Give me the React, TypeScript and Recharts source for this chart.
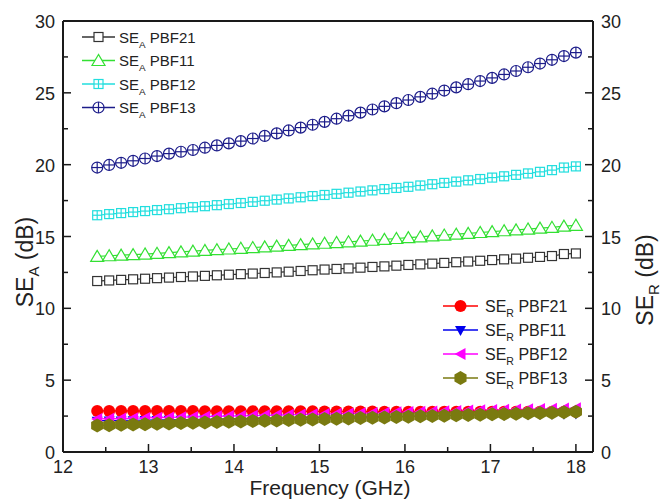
import { LineChart, Line, XAxis, YAxis, ReferenceLine } from "recharts";

// frequency points (GHz)
const freq = [
  12.4, 12.54, 12.68, 12.82, 12.96, 13.1, 13.24, 13.38, 13.52, 13.66,
  13.8, 13.94, 14.08, 14.22, 14.36, 14.5, 14.64, 14.78, 14.92, 15.06,
  15.2, 15.34, 15.48, 15.62, 15.76, 15.9, 16.04, 16.18, 16.32, 16.46,
  16.6, 16.74, 16.88, 17.02, 17.16, 17.3, 17.44, 17.58, 17.72, 17.86,
  18.0,
];

const seA21 = [
  11.9, 11.94, 11.98, 12.02, 12.06, 12.1, 12.14, 12.18, 12.22, 12.26,
  12.3, 12.34, 12.38, 12.42, 12.46, 12.5, 12.55, 12.6, 12.65, 12.7,
  12.74, 12.78, 12.83, 12.88, 12.92, 12.97, 13.02, 13.06, 13.11, 13.16,
  13.21, 13.26, 13.31, 13.36, 13.41, 13.46, 13.52, 13.58, 13.64, 13.78,
  13.82,
];
const seA11 = [
  13.62, 13.66, 13.7, 13.74, 13.78, 13.83, 13.88, 13.93, 13.98, 14.03,
  14.08, 14.13, 14.18, 14.23, 14.28, 14.33, 14.38, 14.43, 14.48, 14.53,
  14.58, 14.63, 14.68, 14.74, 14.8, 14.86, 14.92, 14.98, 15.04, 15.1,
  15.16, 15.22, 15.28, 15.34, 15.4, 15.46, 15.52, 15.58, 15.64, 15.72,
  15.78,
];
const seA12 = [
  16.48, 16.56, 16.63, 16.7, 16.77, 16.84, 16.9, 16.97, 17.04, 17.11,
  17.18, 17.26, 17.33, 17.41, 17.49, 17.57, 17.65, 17.73, 17.81, 17.89,
  17.97, 18.05, 18.13, 18.21, 18.3, 18.38, 18.46, 18.55, 18.64, 18.73,
  18.82, 18.91, 19.0, 19.1, 19.19, 19.29, 19.39, 19.5, 19.62, 19.8,
  19.88,
];
const seA13 = [
  19.8, 19.98, 20.13, 20.27, 20.43, 20.6, 20.77, 20.9, 21.02, 21.18,
  21.34, 21.48, 21.64, 21.82, 22.0, 22.18, 22.38, 22.58, 22.78, 22.98,
  23.2, 23.41, 23.62, 23.84, 24.06, 24.28, 24.5, 24.72, 24.94, 25.16,
  25.38, 25.6, 25.82, 26.04, 26.28, 26.52, 26.78, 27.04, 27.3, 27.56,
  27.8,
];

const seR21 = [
  2.86, 2.86, 2.86, 2.86, 2.85, 2.85, 2.85, 2.85, 2.85, 2.84,
  2.84, 2.84, 2.84, 2.84, 2.83, 2.83, 2.83, 2.83, 2.83, 2.82,
  2.82, 2.82, 2.82, 2.82, 2.81, 2.81, 2.81, 2.81, 2.81, 2.8,
  2.8, 2.8, 2.8, 2.8, 2.8, 2.8, 2.8, 2.8, 2.8, 2.8,
  2.8,
];
const seR11 = [
  2.18, 2.19, 2.2, 2.21, 2.22, 2.23, 2.24, 2.25, 2.26, 2.27,
  2.29, 2.3, 2.31, 2.32, 2.34, 2.35, 2.36, 2.37, 2.39, 2.4,
  2.41, 2.43, 2.44, 2.45, 2.47, 2.48, 2.49, 2.51, 2.52, 2.54,
  2.55, 2.56, 2.58, 2.59, 2.6, 2.62, 2.63, 2.64, 2.66, 2.67,
  2.68,
];
const seR12 = [
  2.3, 2.32, 2.33, 2.35, 2.37, 2.39, 2.41, 2.42, 2.44, 2.46,
  2.48, 2.5, 2.51, 2.53, 2.55, 2.57, 2.59, 2.61, 2.62, 2.64,
  2.66, 2.68, 2.7, 2.72, 2.74, 2.76, 2.78, 2.8, 2.82, 2.84,
  2.86, 2.88, 2.9, 2.92, 2.94, 2.96, 2.98, 3.0, 3.01, 3.03,
  3.05,
];
const seR13 = [
  1.85, 1.87, 1.9, 1.92, 1.94, 1.97, 1.99, 2.01, 2.04, 2.06,
  2.08, 2.11, 2.13, 2.15, 2.18, 2.2, 2.22, 2.25, 2.27, 2.29,
  2.32, 2.34, 2.36, 2.39, 2.41, 2.43, 2.46, 2.48, 2.5, 2.53,
  2.55, 2.57, 2.6, 2.62, 2.64, 2.67, 2.69, 2.71, 2.74, 2.77,
  2.8,
];

const xTicks = [12, 12.5, 13, 13.5, 14, 14.5, 15, 15.5, 16, 16.5, 17, 17.5, 18];
const yTicks = [0, 2.5, 5, 7.5, 10, 12.5, 15, 17.5, 20, 22.5, 25, 27.5, 30];

const data = freq.map((f, i) => ({
  f,
  a21: seA21[i],
  a11: seA11[i],
  a12: seA12[i],
  a13: seA13[i],
  r21: seR21[i],
  r11: seR11[i],
  r12: seR12[i],
  r13: seR13[i],
}));

const FONT = "'Liberation Sans', Arial, sans-serif";
const AXIS = "#1a1a1a";

type P = { cx: number; cy: number };

const OpenSquare = ({ cx, cy }: P) => (
  <rect x={cx - 4.5} y={cy - 4.5} width={9} height={9} fill="#fff" stroke="#333" strokeWidth={1.2} />
);
const OpenTriangle = ({ cx, cy }: P) => (
  <polygon
    points={`${cx},${cy - 6} ${cx - 6.5},${cy + 5} ${cx + 6.5},${cy + 5}`}
    fill="#fff"
    stroke="#33e033"
    strokeWidth={1.2}
  />
);
const CrossSquare = ({ cx, cy }: P) => (
  <g stroke="#22dede" strokeWidth={1.2} fill="#fff">
    <rect x={cx - 4.5} y={cy - 4.5} width={9} height={9} />
    <line x1={cx - 4.5} x2={cx + 4.5} y1={cy} y2={cy} />
    <line x1={cx} x2={cx} y1={cy - 4.5} y2={cy + 4.5} />
  </g>
);
const CrossCircle = ({ cx, cy }: P) => (
  <g stroke="#1c1c8a" strokeWidth={1.2} fill="#fff">
    <circle cx={cx} cy={cy} r={5.5} />
    <line x1={cx - 5.5} x2={cx + 5.5} y1={cy} y2={cy} />
    <line x1={cx} x2={cx} y1={cy - 5.5} y2={cy + 5.5} />
  </g>
);
const RedDot = ({ cx, cy }: P) => <circle cx={cx} cy={cy} r={6} fill="#ff0000" />;
const BlueDown = ({ cx, cy }: P) => (
  <polygon points={`${cx - 5.5},${cy - 4} ${cx + 5.5},${cy - 4} ${cx},${cy + 6}`} fill="#0000ee" />
);
const MagentaLeft = ({ cx, cy }: P) => (
  <polygon points={`${cx - 6},${cy} ${cx + 5},${cy - 6} ${cx + 5},${cy + 6}`} fill="#ff00ff" />
);
const OliveHex = ({ cx, cy }: P) => {
  const r = 7;
  const pts = [0, 1, 2, 3, 4, 5]
    .map((k) => {
      const a = (Math.PI / 3) * k + Math.PI / 6;
      return `${cx + r * Math.cos(a)},${cy + r * Math.sin(a)}`;
    })
    .join(" ");
  return <polygon points={pts} fill="#7a7a10" />;
};

const dotOf = (Shape: (p: P) => any) => (props: any) => (
  <Shape key={`d-${props.index}`} cx={props.cx} cy={props.cy} />
);

const XTick = ({ x, y, payload }: any) => {
  const major = Number.isInteger(payload.value);
  return (
    <g>
      <line x1={x} x2={x} y1={y} y2={y - (major ? 8 : 5)} stroke={AXIS} strokeWidth={1.5} />
      {major && (
        <text x={x} y={y + 21} textAnchor="middle" fontSize={18} fontFamily={FONT} fill="#222">
          {payload.value}
        </text>
      )}
    </g>
  );
};

const LeftTick = ({ x, y, payload }: any) => {
  const major = payload.value % 5 === 0;
  return (
    <g>
      <line x1={x} x2={x + (major ? 8 : 5)} y1={y} y2={y} stroke={AXIS} strokeWidth={1.5} />
      {major && (
        <text x={x - 8} y={y + 7} textAnchor="end" fontSize={18} fontFamily={FONT} fill="#222">
          {payload.value}
        </text>
      )}
    </g>
  );
};

const RightTick = ({ x, y, payload }: any) => {
  const major = payload.value % 5 === 0;
  return (
    <g>
      <line x1={x} x2={x - (major ? 8 : 5)} y1={y} y2={y} stroke={AXIS} strokeWidth={1.5} />
      {major && (
        <text x={x + 8} y={y + 7} textAnchor="start" fontSize={18} fontFamily={FONT} fill="#222">
          {payload.value}
        </text>
      )}
    </g>
  );
};

const legendA = [
  { name: "PBF21", color: "#333", Shape: OpenSquare },
  { name: "PBF11", color: "#33e033", Shape: OpenTriangle },
  { name: "PBF12", color: "#22dede", Shape: CrossSquare },
  { name: "PBF13", color: "#1c1c8a", Shape: CrossCircle },
];
const legendR = [
  { name: "PBF21", color: "#ff0000", Shape: RedDot },
  { name: "PBF11", color: "#0000ee", Shape: BlueDown },
  { name: "PBF12", color: "#ff00ff", Shape: MagentaLeft },
  { name: "PBF13", color: "#7a7a10", Shape: OliveHex },
];

function LegendRow({ x, y, len, gap, fs, color, Shape, sub, name }: any) {
  return (
    <g>
      <line x1={x} x2={x + len} y1={y} y2={y} stroke={color} strokeWidth={1.3} />
      <Shape cx={x + len / 2} cy={y} />
      <text x={x + len + gap} y={y + fs * 0.37} fontSize={fs} fontFamily={FONT} fill="#222">
        SE
        <tspan fontSize={fs * 0.66} dy={5}>{sub}</tspan>
        <tspan dy={-5}> {name}</tspan>
      </text>
    </g>
  );
}

const lineProps = { strokeWidth: 1.2, activeDot: false as const, isAnimationActive: false };

export default function App() {
  return (
    <div style={{ position: "absolute", left: 0, top: 0, width: 670, height: 500, background: "#fff" }}>
      <LineChart width={670} height={500} data={data} margin={{ top: 21, right: 0, bottom: 0, left: 0 }}>
        <XAxis
          dataKey="f"
          type="number"
          domain={[12, 18.2]}
          ticks={xTicks}
          interval={0}
          height={48}
          tickSize={0}
          tickMargin={0}
          tickLine={false}
          axisLine={{ stroke: AXIS, strokeWidth: 2 }}
          tick={<XTick />}
          allowDataOverflow
        />
        <YAxis
          yAxisId="l"
          orientation="left"
          domain={[0, 30]}
          ticks={yTicks}
          interval={0}
          width={63}
          tickSize={0}
          tickMargin={0}
          tickLine={false}
          axisLine={{ stroke: AXIS, strokeWidth: 2 }}
          tick={<LeftTick />}
        />
        <YAxis
          yAxisId="r"
          orientation="right"
          domain={[0, 30]}
          ticks={yTicks}
          interval={0}
          width={77}
          tickSize={0}
          tickMargin={0}
          tickLine={false}
          axisLine={{ stroke: AXIS, strokeWidth: 2 }}
          tick={<RightTick />}
        />
        <ReferenceLine yAxisId="l" y={30} stroke={AXIS} strokeWidth={2} />

        <Line yAxisId="l" dataKey="a21" stroke="#333" dot={dotOf(OpenSquare)} {...lineProps} />
        <Line yAxisId="l" dataKey="a11" stroke="#33e033" dot={dotOf(OpenTriangle)} {...lineProps} />
        <Line yAxisId="l" dataKey="a12" stroke="#22dede" dot={dotOf(CrossSquare)} {...lineProps} />
        <Line yAxisId="l" dataKey="a13" stroke="#1c1c8a" dot={dotOf(CrossCircle)} {...lineProps} />
        <Line yAxisId="r" dataKey="r21" stroke="#ff0000" dot={dotOf(RedDot)} {...lineProps} />
        <Line yAxisId="r" dataKey="r11" stroke="#0000ee" dot={dotOf(BlueDown)} {...lineProps} />
        <Line yAxisId="r" dataKey="r12" stroke="#ff00ff" dot={dotOf(MagentaLeft)} {...lineProps} />
        <Line yAxisId="r" dataKey="r13" stroke="#7a7a10" dot={dotOf(OliveHex)} {...lineProps} />
      </LineChart>

      <svg width={670} height={500} style={{ position: "absolute", left: 0, top: 0, pointerEvents: "none" }}>
        {legendA.map((l, i) => (
          <LegendRow key={l.name + "a"} x={82} y={37 + i * 23.5} len={33} gap={4} fs={15} color={l.color} Shape={l.Shape} sub="A" name={l.name} />
        ))}
        {legendR.map((l, i) => (
          <LegendRow key={l.name + "r"} x={443} y={306 + i * 24} len={35} gap={7} fs={16} color={l.color} Shape={l.Shape} sub="R" name={l.name} />
        ))}
        <text x={330} y={495} textAnchor="middle" fontSize={21} fontFamily={FONT} fill="#222">
          Frequency (GHz)
        </text>
        <text transform="translate(33,262) rotate(-90)" textAnchor="middle" fontSize={23} fontFamily={FONT} fill="#222">
          SE<tspan fontSize={15} dy={6}>A</tspan><tspan dy={-6}> (dB)</tspan>
        </text>
        <text transform="translate(653,280) rotate(-90)" textAnchor="middle" fontSize={23} fontFamily={FONT} fill="#222">
          SE<tspan fontSize={15} dy={6}>R</tspan><tspan dy={-6}> (dB)</tspan>
        </text>
      </svg>
    </div>
  );
}
